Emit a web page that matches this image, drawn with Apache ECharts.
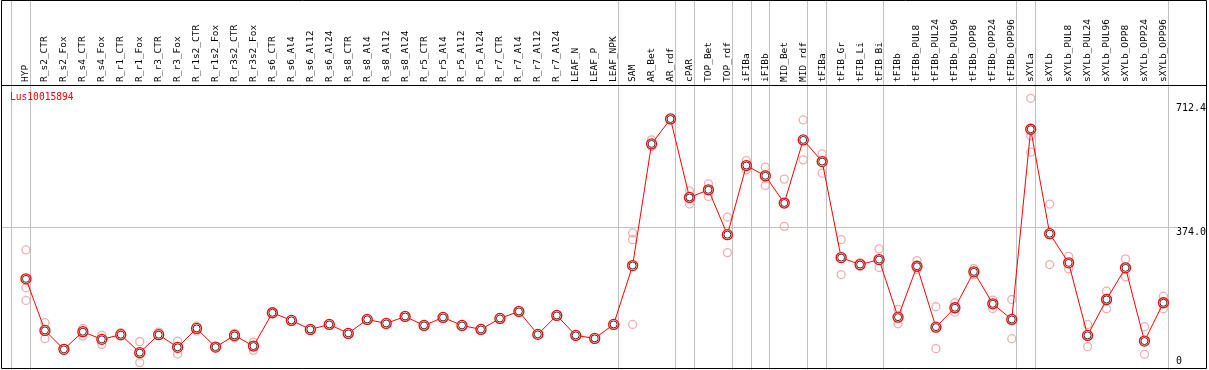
<!DOCTYPE html>
<html>
<head>
<meta charset="utf-8">
<script src="https://cdn.jsdelivr.net/npm/echarts@6/dist/echarts.min.js"></script>
<style>
  html, body { margin: 0; padding: 0; background: #ffffff; }
  #chart { width: 1209px; height: 370px; }
</style>
</head>
<body>
<div id="chart"></div>
<script>
const geneName = 'Lus10015894';

const categories = [
  'HYP', 'R_s2_CTR', 'R_s2_Fox', 'R_s4_CTR', 'R_s4_Fox', 'R_r1_CTR', 'R_r1_Fox',
  'R_r3_CTR', 'R_r3_Fox', 'R_r1s2_CTR', 'R_r1s2_Fox', 'R_r3s2_CTR', 'R_r3s2_Fox',
  'R_s6_CTR', 'R_s6_Al4', 'R_s6_Al12', 'R_s6_Al24', 'R_s8_CTR', 'R_s8_Al4', 'R_s8_Al12',
  'R_s8_Al24', 'R_r5_CTR', 'R_r5_Al4', 'R_r5_Al12', 'R_r5_Al24', 'R_r7_CTR', 'R_r7_Al4',
  'R_r7_Al12', 'R_r7_Al24', 'LEAF_N', 'LEAF_P', 'LEAF_NPK', 'SAM', 'AR_Bet', 'AR_rdf',
  'cPAR', 'TOP_Bet', 'TOP_rdf', 'iFIBa', 'iFIBb', 'MID_Bet', 'MID_rdf', 'tFIBa',
  'tFIB_Gr', 'tFIB_Li', 'tFIB_Bi', 'tFIBb', 'tFIBb_PUL8', 'tFIBb_PUL24', 'tFIBb_PUL96',
  'tFIBb_OPP8', 'tFIBb_OPP24', 'tFIBb_OPP96', 'sXYLa', 'sXYLb', 'sXYLb_PUL8',
  'sXYLb_PUL24', 'sXYLb_PUL96', 'sXYLb_OPP8', 'sXYLb_OPP24', 'sXYLb_OPP96'
];

const meanValues = [
  239.0, 103.8, 54.1, 100.4, 80.3, 92.6, 45.5,
  92.6, 59.4, 109.0, 60.1, 90.7, 62.8,
  150.1, 130.0, 106.4, 119.5, 96.0, 132.6, 122.1,
  140.4, 116.9, 137.8, 116.9, 106.4, 135.2, 153.5,
  93.4, 143.0, 90.7, 82.9, 119.5, 273.8, 592.8, 658.2,
  452.4, 472.5, 354.9, 536.1, 509.1, 437.8, 603.3, 546.5,
  294.7, 276.4, 289.5, 138.6, 272.0, 112.4, 163.2,
  257.3, 173.6, 132.6, 631.3, 357.5, 280.9,
  90.7, 184.9, 267.8, 75.8, 176.3
];

const replicateValues = [
  [314.8, 215.5, 182.3], [124.0, 82.1], [56.0, 52.0], [109.0, 88.9], [90.7, 67.2], [97.8, 89.4], [74.3, 19.4],
  [99.4, 90.7], [75.8, 41.8], [115.1, 102.0], [61.9, 58.0], [96.0, 84.7], [73.2, 51.5],
  [], [], [], [], [], [], [],
  [], [], [], [], [], [], [],
  [], [], [], [], [], [359.3, 341.8, 119.5], [603.3, 585.8], [],
  [469.9, 435.1], [488.2, 455.0], [401.1, 307.8], [549.2, 524.8], [531.9, 483.8], [500.5, 376.6], [655.6, 551.0], [566.7, 516.2],
  [341.8, 250.3], [281.6, 271.2], [317.5, 268.6], [158.7, 121.3], [286.9, 263.3], [165.8, 56.0], [176.3, 151.7],
  [265.9, 250.0], [183.1, 161.3], [184.9, 82.1], [712.4, 613.7, 571.1], [435.1, 276.4], [298.1, 265.2],
  [119.5, 61.2], [206.6, 160.6], [291.3, 244.2], [113.5, 41.1], [193.5, 160.6]
];

const yTickValues = [0, 374.0, 712.4];
const referenceLineValue = 374.0;
const yMax = 712.4;
// group separators drawn just after these category indices (-1 = before the first)
const separatorsAfter = [-1, 0, 31, 34, 35, 37, 38, 39, 41, 42, 45, 52, 53, 60];

const replicatePoints = [];
replicateValues.forEach(function (vals, i) {
  vals.forEach(function (v) { replicatePoints.push([i, v]); });
});

const chart = echarts.init(document.getElementById('chart'), null, { renderer: 'canvas' });

const monoFont = '"DejaVu Sans Mono", "Liberation Mono", monospace';

chart.setOption({
  animation: false,
  backgroundColor: '#ffffff',
  title: {
    text: geneName,
    left: 10,
    top: 92,
    padding: 0,
    textStyle: { color: '#ff0000', fontSize: 9.6, fontWeight: 'normal', fontFamily: monoFont }
  },
  grid: { left: 16.5, right: 32.8, top: 98.3, height: 272.4, containLabel: false },
  xAxis: {
    type: 'category',
    data: categories,
    position: 'top',
    offset: 13.3,
    boundaryGap: true,
    axisLine: { show: false },
    axisTick: { show: false },
    splitLine: { show: false },
    axisLabel: {
      rotate: 90,
      margin: 3,
      interval: 0,
      color: '#000000',
      fontSize: 9.5,
      fontFamily: monoFont
    }
  },
  yAxis: {
    type: 'value',
    position: 'right',
    min: 0,
    max: yMax,
    axisLine: { show: false },
    axisTick: { show: false },
    splitLine: { show: false },
    axisLabel: {
      customValues: yTickValues,
      margin: 3,
      align: 'left',
      color: '#000000',
      fontSize: 10,
      fontFamily: monoFont,
      formatter: function (v) {
        if (v === 0) return '{b|0}';
        if (v >= yMax) return '{t|' + v.toFixed(1) + '}';
        return '{m|' + v.toFixed(1) + '}';
      },
      rich: {
        t: { padding: [20, 0, 0, 0], fontSize: 10, fontFamily: monoFont, color: '#000' },
        m: { padding: [9.6, 0, 0, 0], fontSize: 10, fontFamily: monoFont, color: '#000' },
        b: { padding: [0, 0, 17.4, 0], fontSize: 10, fontFamily: monoFont, color: '#000' }
      }
    }
  },
  series: [
    {
      name: 'replicates',
      type: 'scatter',
      data: replicatePoints,
      symbol: 'circle',
      symbolSize: 8,
      itemStyle: { color: 'rgba(255,255,255,0)', borderColor: '#ee9a9a', borderWidth: 1.3 },
      z: 2,
      clip: false
    },
    {
      name: 'mean',
      type: 'line',
      data: meanValues,
      symbol: 'circle',
      symbolSize: 10,
      showAllSymbol: true,
      lineStyle: { color: '#ff0000', width: 1 },
      itemStyle: { color: '#ffffff', borderColor: '#ff0000', borderWidth: 1.3 },
      z: 3,
      clip: false
    },
    {
      name: 'meanInner',
      type: 'scatter',
      data: meanValues.map(function (v, i) { return [i, v]; }),
      symbol: 'circle',
      symbolSize: 7,
      itemStyle: { color: 'rgba(255,255,255,0)', borderColor: '#000000', borderWidth: 1 },
      z: 4,
      clip: false
    }
  ]
});

// decorative frame and guide lines, positioned through the axes
const x0 = chart.convertToPixel({ xAxisIndex: 0 }, 0);
const band = chart.convertToPixel({ xAxisIndex: 0 }, 1) - x0;
const refY = Math.round(chart.convertToPixel({ yAxisIndex: 0 }, referenceLineValue)) + 0.5;
const graphics = [];
separatorsAfter.forEach(function (i) {
  const x = Math.round(x0 + (i + 0.22) * band) + 0.5;
  graphics.push({
    type: 'line', z: 1, silent: true,
    shape: { x1: x, y1: 0, x2: x, y2: 370 },
    style: { stroke: '#c0c0c0', lineWidth: 1 }
  });
});
graphics.push({
  type: 'line', z: 1, silent: true,
  shape: { x1: 1, y1: refY, x2: 1178, y2: refY },
  style: { stroke: '#c0c0c0', lineWidth: 1 }
});
graphics.push({
  type: 'rect', z: 100, silent: true,
  shape: { x: 1.5, y: 0.5, width: 1205, height: 368 },
  style: { fill: null, stroke: '#000000', lineWidth: 1 }
});
graphics.push({
  type: 'line', z: 100, silent: true,
  shape: { x1: 1, y1: 85.5, x2: 1207, y2: 85.5 },
  style: { stroke: '#000000', lineWidth: 1 }
});
chart.setOption({ graphic: graphics });
</script>
</body>
</html>
